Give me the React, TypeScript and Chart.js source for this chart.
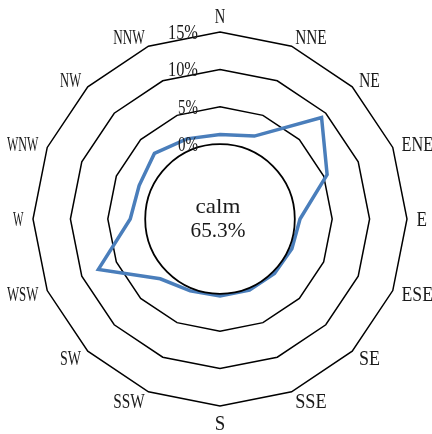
import { useEffect, useRef } from "react";
import { Chart, registerables } from "chart.js";

Chart.register(...registerables);

const directions = ["N", "NNE", "NE", "ENE", "E", "ESE", "SE", "SSE", "S", "SSW", "SW", "WSW", "W", "WNW", "NW", "NNW"];
const frequencies = [1.3, 2.0, 9.2, 5.5, 0.7, 0.4, 0.3, 0.3, 0.3, 0.4, 1.3, 7.6, 2.0, 1.7, 2.4, 1.6];
const ringValues = [0, 5, 10, 15];
const ringLabels = ["0%", "5%", "10%", "15%"];
const calmLabel = "calm";
const calmValue = "65.3%";

const FONT = '"Liberation Serif", serif';
const TEXT = "#1a1a1a";

function drawCondensed(
  ctx: CanvasRenderingContext2D,
  text: string,
  x: number,
  y: number,
  charW: number,
  capH: number,
  align: "left" | "right" | "center",
  vAlign: "top" | "bottom" | "middle" | "baseline"
) {
  ctx.save();
  ctx.font = `100px ${FONT}`;
  const m = ctx.measureText("N");
  const capRatio = (m.actualBoundingBoxAscent || 66) / 100;
  const fontSize = capH / capRatio;
  ctx.font = `${fontSize}px ${FONT}`;
  const natural = ctx.measureText(text).width;
  const targetW = charW * text.length;
  const sx = targetW / natural;
  const left = align === "left" ? x : align === "right" ? x - targetW : x - targetW / 2;
  const base =
    vAlign === "bottom" ? y : vAlign === "top" ? y + capH : vAlign === "middle" ? y + capH / 2 : y;
  ctx.translate(left, base);
  ctx.scale(sx, 1);
  ctx.textAlign = "left";
  ctx.textBaseline = "alphabetic";
  ctx.fillStyle = TEXT;
  ctx.fillText(text, 0, 0);
  ctx.restore();
}

const overlay = {
  id: "overlay",
  afterDatasetsDraw(chart: any) {
    const scale = chart.scales.r;
    const ctx: CanvasRenderingContext2D = chart.ctx;
    const cx = scale.xCenter;
    const cy = scale.yCenter;
    const r0 = scale.getDistanceFromCenterForValue(0);

    ctx.save();
    ctx.beginPath();
    ctx.arc(cx, cy, r0, 0, Math.PI * 2);
    ctx.fillStyle = "#fff";
    ctx.fill();
    ctx.lineWidth = 1.8;
    ctx.strokeStyle = "#000";
    ctx.stroke();
    ctx.restore();

    drawCondensed(ctx, calmLabel, cx - 2, cy - 6, 11.2, 13.5, "center", "baseline");
    drawCondensed(ctx, calmValue, cx - 2, cy + 18, 11, 13.5, "center", "baseline");

    ringValues.forEach((v, i) => {
      const y = cy - scale.getDistanceFromCenterForValue(v);
      drawCondensed(ctx, ringLabels[i], cx - 22, y, 10, 14, "right", "middle");
    });

    const n = directions.length;
    const labelR = scale.drawingArea + 9.5;
    directions.forEach((d, i) => {
      const p = scale.getPointPosition(i, labelR);
      const ang = (i / n) * 2 * Math.PI;
      const s = Math.sin(ang);
      const c = Math.cos(ang);
      let align: "left" | "right" | "center";
      let v: "top" | "bottom" | "middle";
      if (Math.abs(s) < 1e-6) {
        align = "center";
        v = c > 0 ? "bottom" : "top";
      } else {
        align = s > 0 ? "left" : "right";
        v = "middle";
      }
      drawCondensed(ctx, d, p.x, p.y, 10.5, 14, align, v);
    });
  },
};

export default function App() {
  const ref = useRef<HTMLCanvasElement>(null);
  useEffect(() => {
    if (!ref.current) return;
    const chart = new Chart(ref.current, {
      type: "radar",
      data: {
        labels: directions,
        datasets: [
          {
            data: frequencies,
            borderColor: "#4A7EBB",
            borderWidth: 3.5,
            pointRadius: 0,
            pointHoverRadius: 0,
            fill: false,
            tension: 0,
          },
        ],
      },
      options: {
        responsive: false,
        animation: false,
        devicePixelRatio: 1,
        layout: { padding: { left: 33, right: 25, top: 32, bottom: 28 } },
        plugins: { legend: { display: false }, tooltip: { enabled: false } },
        scales: {
          r: {
            min: -10,
            max: 15,
            ticks: { stepSize: 5, display: false },
            pointLabels: { display: false },
            angleLines: { display: false },
            grid: {
              color: (c: any) => (c.tick && c.tick.value > 0 ? "#000" : "rgba(0,0,0,0)"),
              lineWidth: 1.5,
            },
          },
        },
      } as any,
      plugins: [overlay],
    });
    return () => chart.destroy();
  }, []);
  return (
    <canvas
      ref={ref}
      width={432}
      height={434}
      style={{ display: "block", position: "absolute", left: 0, top: 0 }}
    />
  );
}
